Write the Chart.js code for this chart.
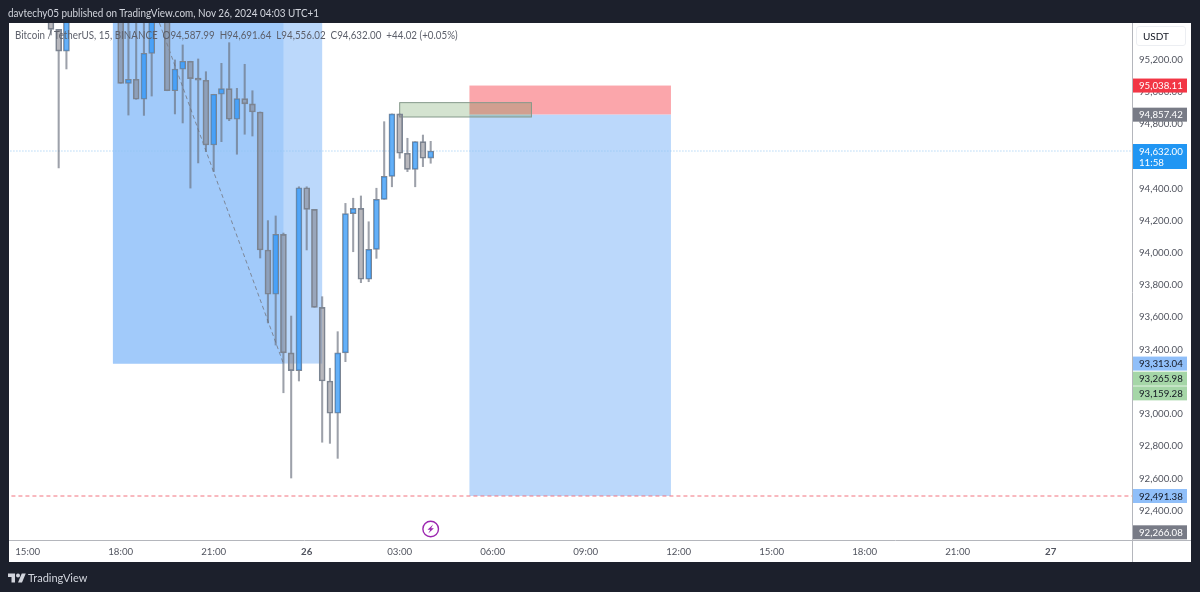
<!DOCTYPE html>
<html>
<head>
<meta charset="utf-8">
<title>BTCUSDT 15m</title>
<script src="https://cdn.jsdelivr.net/npm/chart.js@4"></script>
<style>
    html, body { margin: 0; padding: 0; background: #1c202c; width: 1200px; height: 592px; overflow: hidden; font-family: Lato, sans-serif; }
    #panel { position: absolute; left: 9px; top: 23px; width: 1182px; height: 539px; background: #fff; }
    #chart { position: absolute; left: 0; top: 0; }
    #published { position: absolute; left: 8px; top: 5px; font-size: 11px; line-height: 16px; color: #d1d4dc; white-space: nowrap; transform: scaleX(0.9); transform-origin: left; }
    #legend { position: absolute; left: 15px; top: 27px; font-size: 10.7px; line-height: 16px; color: #5d606b; white-space: pre; transform: scaleX(0.915); transform-origin: left; }
    #unit { position: absolute; left: 1136px; top: 26px; width: 50px; height: 20px; box-sizing: border-box; border: 1px solid #eceef2; border-radius: 3px; font-size: 10px; line-height: 18px; padding-left: 6px; color: #131722; }
    #logo { position: absolute; left: 8px; top: 572px; }
    #brand { position: absolute; left: 28px; top: 570px; font-size: 11px; line-height: 16px; color: #d1d4dc; }
</style>
</head>
<body>
<div id="panel"></div>
<canvas id="chart" width="1200" height="592"></canvas>
<div id="published">davtechy05 published on TradingView.com, Nov 26, 2024 04:03 UTC+1</div>
<div id="legend">Bitcoin / TetherUS, 15, BINANCE  O94,587.99  H94,691.64  L94,556.02  C94,632.00  +44.02 (+0.05%)</div>
<div id="unit">USDT</div>
<svg id="logo" width="18" height="12" viewBox="0 4 36 18"><path fill="#d1d4dc" d="M14 22H7V11H0V4h14v18zM28 22h-8l7.5-18h8L28 22z"/><circle fill="#d1d4dc" cx="20" cy="8" r="4"/></svg>
<div id="brand">TradingView</div>

<script>
// 15 minute bars, bar 0 is 15:00 on the 25th. Values above 95,426 are off the top of the chart.
const barIndex = [3, 4, 5, 12, 13, 14, 15, 16, 18, 19, 20, 21, 22, 23, 24, 25, 26, 27, 28, 29, 30, 31, 32, 33, 34, 35, 36, 37, 38, 39, 40, 41, 42, 43, 44, 45, 46, 47, 48, 49, 50, 51, 52];
const opens = [95480, 95387, 95252, 95500, 95052, 95077, 94953, 95238, 95500, 95006, 95139, 95189, 95085, 95071, 94669, 94984, 95019, 94829, 94957, 94924, 94874, 94018, 93743, 94115, 93379, 93269, 94404, 94270, 93662, 93205, 93005, 93379, 94243, 94276, 93836, 94022, 94332, 94475, 94862, 94618, 94518, 94690, 94588];
const highs = [95500, 95387, 95500, 95500, 95500, 95500, 95500, 95500, 95500, 95197, 95290, 95189, 95203, 95124, 94984, 95176, 95304, 95021, 95170, 95006, 94874, 94200, 94229, 94123, 93608, 94410, 94410, 94270, 93728, 93284, 93511, 94307, 94339, 94353, 94193, 94401, 94814, 94862, 94862, 94711, 94690, 94731, 94692];
const lows = [95352, 94527, 95141, 95052, 94855, 94953, 94853, 94973, 95006, 94862, 94806, 94402, 94558, 94628, 94504, 94690, 94820, 94612, 94736, 94725, 93968, 93565, 93428, 93132, 92603, 93205, 94018, 93662, 92825, 92818, 92725, 93325, 94007, 93815, 93821, 93966, 94332, 94410, 94587, 94504, 94410, 94535, 94556];
const closes = [95387, 95252, 95500, 95052, 95077, 94953, 95238, 95500, 95006, 95141, 95189, 95081, 95071, 94669, 94984, 95019, 94829, 94957, 94924, 94874, 94018, 93743, 94115, 93379, 93269, 94404, 94270, 93662, 93205, 93005, 93379, 94243, 94276, 93836, 94022, 94332, 94475, 94862, 94618, 94518, 94690, 94587, 94632];

const timeTicks = [0, 12, 24, 36, 48, 60, 72, 84, 96, 108, 120, 132];
const timeLabels = ['15:00', '18:00', '21:00', '26', '03:00', '06:00', '09:00', '12:00', '15:00', '18:00', '21:00', '27'];
const priceTicks = [92400, 92600, 92800, 93000, 93400, 93600, 93800, 94000, 94200, 94400, 94800, 95000, 95200];

// drawings: first bar, last bar, top price, bottom price
const rangeZone = [11, 33, 95500, 93313.04];
const rangeZoneWide = [11, 38, 95500, 93313.04];
const stopZone = [57, 83, 95038.11, 94857.42];
const targetZone = [57, 83, 94857.42, 92491.38];
const gapBox = [48, 65, 94932, 94843];
const swingBars = [17, 33];
const swingPrices = [95426, 93313];
const lastPrice = 94632;
const targetPrice = 92491.38;
const eventBar = 52;

// price tags on the axis
const tagPrices = [95038.11, 94857.42, 94632.00, 93313.04, 93265.98, 93159.28, 92491.38, 92266.08];
const tagTexts = ['95,038.11', '94,857.42', '94,632.00', '93,313.04', '93,265.98', '93,159.28', '92,491.38', '92,266.08'];
const tagColors = ['#f23645', '#787b86', '#2196f3', '#90bff9', '#a5d6a7', '#a5d6a7', '#90bff9', '#787b86'];
const tagInk = ['#fff', '#fff', '#fff', '#131722', '#131722', '#131722', '#131722', '#fff'];
const tagNudge = [0, 0, 0, 0, 7.5, 5, 0, 0];

const UP = 'rgba(40, 145, 245, 0.72)';
const DOWN = 'rgba(125, 125, 135, 0.55)';
const WICK = 'rgba(105, 110, 125, 0.65)';
const AXIS_FONT = 'Lato, sans-serif';

function zoneRect(ctx, scales, zone, fill, stroke) {
    const x = scales.x.getPixelForValue(zone[0]);
    const w = scales.x.getPixelForValue(zone[1]) - x;
    const y = scales.y.getPixelForValue(zone[2]);
    const h = scales.y.getPixelForValue(zone[3]) - y;
    ctx.fillStyle = fill;
    ctx.fillRect(x, y, w, h);
    if (stroke) {
        ctx.strokeStyle = stroke;
        ctx.lineWidth = 1;
        ctx.strokeRect(x, y, w, h);
    }
}

const drawings = {
    id: 'drawings',
    beforeDatasetsDraw(chart) {
        const { ctx, chartArea, scales } = chart;
        ctx.save();
        ctx.beginPath();
        ctx.rect(chartArea.left, chartArea.top, chartArea.right - chartArea.left, chartArea.bottom - chartArea.top);
        ctx.clip();
        zoneRect(ctx, scales, rangeZoneWide, '#bbd8fb');
        zoneRect(ctx, scales, rangeZone, '#a1cafa');
        zoneRect(ctx, scales, stopZone, '#fba6ab');
        zoneRect(ctx, scales, targetZone, '#bbd8fb');
        zoneRect(ctx, scales, gapBox, 'rgba(76, 140, 60, 0.24)', '#85998a');
        ctx.restore();
    },
    afterDraw(chart) {
        const { ctx, chartArea, scales } = chart;
        ctx.save();
        // axis lines
        ctx.strokeStyle = '#b4b6bc';
        ctx.lineWidth = 1;
        ctx.beginPath();
        ctx.moveTo(chartArea.left, chartArea.bottom + 0.5);
        ctx.lineTo(1191, chartArea.bottom + 0.5);
        ctx.moveTo(chartArea.right + 0.5, chartArea.top);
        ctx.lineTo(chartArea.right + 0.5, 562);
        ctx.stroke();

        // tags
        ctx.font = '9.7px ' + AXIS_FONT;
        ctx.textBaseline = 'middle';
        tagPrices.forEach((p, i) => {
            const y = scales.y.getPixelForValue(p) + tagNudge[i];
            const tall = p === lastPrice;
            ctx.fillStyle = tagColors[i];
            ctx.fillRect(chartArea.right + 1, y - 7, 54, tall ? 25 : 14);
            ctx.fillStyle = tagInk[i];
            ctx.textAlign = 'left';
            ctx.fillText(tagTexts[i], chartArea.right + 7, y + 0.5);
            if (tall) {
                ctx.fillText('11:58', chartArea.right + 7, y + 11.5);
            }
        });

        // event marker under the last bar
        const ex = scales.x.getPixelForValue(eventBar);
        const ey = 529;
        ctx.strokeStyle = '#9c27b0';
        ctx.lineWidth = 1.4;
        ctx.beginPath();
        ctx.arc(ex, ey, 7.8, 0, Math.PI * 2);
        ctx.stroke();
        ctx.fillStyle = '#9c27b0';
        ctx.beginPath();
        ctx.moveTo(ex + 2.4, ey - 4.6);
        ctx.lineTo(ex - 3.2, ey + 0.8);
        ctx.lineTo(ex - 0.4, ey + 0.8);
        ctx.lineTo(ex - 2.4, ey + 4.6);
        ctx.lineTo(ex + 3.2, ey - 0.8);
        ctx.lineTo(ex + 0.4, ey - 0.8);
        ctx.closePath();
        ctx.fill();
        ctx.restore();
    }
};

const ctx = document.getElementById('chart').getContext('2d');

new Chart(ctx, {
    type: 'bar',
    data: {
        datasets: [
            {
                type: 'line',
                data: swingBars.map((b, i) => ({ x: b, y: swingPrices[i] })),
                borderColor: '#7d8798',
                borderWidth: 1,
                borderDash: [4, 3],
                pointRadius: 0,
                order: 5
            },
            {
                type: 'line',
                data: [{ x: -3, y: lastPrice }, { x: 143, y: lastPrice }],
                borderColor: '#8fc4f2',
                borderWidth: 1,
                borderDash: [1, 2],
                pointRadius: 0,
                order: 4
            },
            {
                type: 'line',
                data: [{ x: -3, y: targetPrice }, { x: 143, y: targetPrice }],
                borderColor: '#f2727f',
                borderWidth: 1,
                borderDash: [4, 3],
                pointRadius: 0,
                order: 4
            },
            {
                label: 'upper wicks',
                data: barIndex.map((b, i) => ({ x: b, y: [Math.max(opens[i], closes[i]), highs[i]] })),
                backgroundColor: WICK,
                barThickness: 1.4,
                grouped: false,
                order: 3
            },
            {
                label: 'lower wicks',
                data: barIndex.map((b, i) => ({ x: b, y: [lows[i], Math.min(opens[i], closes[i])] })),
                backgroundColor: WICK,
                barThickness: 1.4,
                grouped: false,
                order: 3
            },
            {
                label: 'bodies',
                data: barIndex.map((b, i) => ({ x: b, y: [opens[i], closes[i]] })),
                backgroundColor: closes.map((c, i) => c >= opens[i] ? UP : DOWN),
                borderColor: '#7c8694',
                borderWidth: 1,
                borderSkipped: false,
                barThickness: 6,
                grouped: false,
                order: 2
            }
        ]
    },
    options: {
        responsive: false,
        animation: false,
        devicePixelRatio: 1,
        layout: { padding: { left: 9, top: 23, right: 9, bottom: 30 } },
        plugins: { legend: { display: false }, tooltip: { enabled: false } },
        scales: {
            x: {
                type: 'linear',
                offset: false,
                min: -2.41,
                max: 142.49,
                grid: { display: false, drawTicks: false },
                border: { display: false },
                afterBuildTicks(scale) {
                    scale.ticks = timeTicks.map(v => ({ value: v }));
                },
                afterFit(scale) {
                    scale.height = 22;
                },
                ticks: {
                    autoSkip: false,
                    maxRotation: 0,
                    padding: 6,
                    color: '#50535e',
                    font(c) {
                        const bold = timeLabels[c.index] === '26' || timeLabels[c.index] === '27';
                        return { family: AXIS_FONT, size: 9.7, weight: bold ? 'bold' : 'normal' };
                    },
                    callback(value) {
                        return timeLabels[timeTicks.indexOf(value)];
                    }
                }
            },
            y: {
                position: 'right',
                min: 92218.4,
                max: 95426.2,
                grid: { display: false, drawTicks: false },
                border: { display: false },
                afterBuildTicks(scale) {
                    scale.ticks = priceTicks.map(v => ({ value: v }));
                },
                afterFit(scale) {
                    scale.width = 59;
                },
                ticks: {
                    autoSkip: false,
                    padding: 7,
                    color: '#50535e',
                    font: { family: AXIS_FONT, size: 9.7 },
                    callback(value) {
                        return value.toLocaleString('en-US', { minimumFractionDigits: 2 });
                    }
                }
            }
        }
    },
    plugins: [drawings]
});
</script>
</body>
</html>
